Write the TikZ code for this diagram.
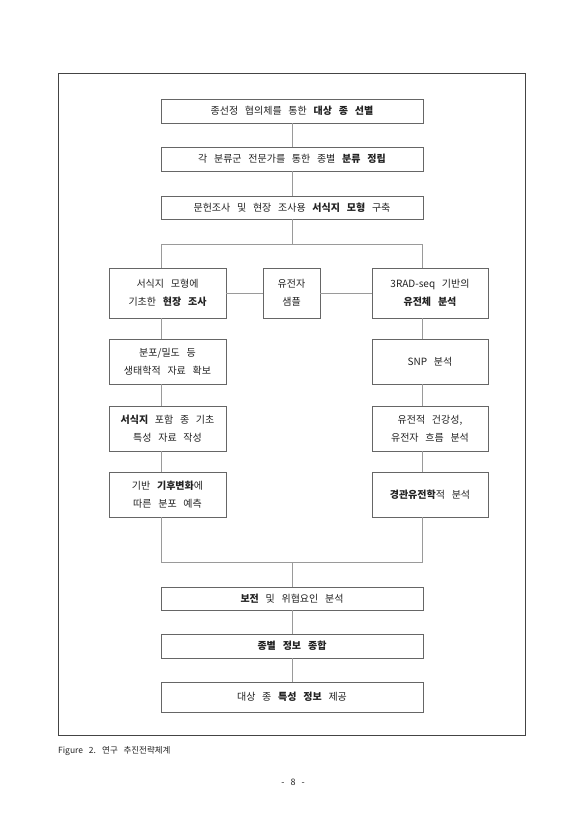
\documentclass[tikz,border=0pt]{standalone}
\usepackage{fontspec}
\setmainfont[WordSpace=3]{Noto Sans CJK KR}
\definecolor{framec}{HTML}{444444}
\definecolor{boxc}{HTML}{666666}
\definecolor{linec}{HTML}{9A9A9A}
\definecolor{textc}{HTML}{222222}
\begin{document}
\begin{tikzpicture}[x=1pt,y=-1pt,
  box/.style={draw=boxc, line width=0.9pt, inner sep=0pt, align=center, text=textc, font=\fontsize{10}{18}\selectfont},
  wide/.style={box, minimum width=262pt, minimum height=24pt},
  side/.style={box, minimum width=117pt, minimum height=45pt},
  conn/.style={draw=linec, line width=0.9pt}]
\useasboundingbox (0,0) rectangle (587,830);
\fill[white] (0,0) rectangle (587,830);
\node[draw=framec, line width=1pt, minimum width=467pt, minimum height=662pt, inner sep=0pt] (frame) at (291.5,404) {};
% top chain
\node[wide] (b1) at (292,111) {종선정 협의체를 통한 \textbf{대상 종 선별}};
\node[wide] (b2) at (292,159) {각 분류군 전문가를 통한 종별 \textbf{분류 정립}};
\node[wide, minimum height=23pt] (b3) at (292,207.5) {문헌조사 및 현장 조사용 \textbf{서식지 모형} 구축};
% row 1
\node[side, minimum height=50pt] (l1) at (167.5,293) {서식지 모형에\\기초한 \textbf{현장 조사}};
\node[box, minimum width=57pt, minimum height=50pt] (m1) at (291.5,293) {유전자\\샘플};
\node[side, minimum height=50pt, minimum width=116pt] (r1) at (430,293) {3RAD-seq 기반의\\\textbf{유전체 분석}};
% left column
\node[side] (l2) at (167.5,361.5) {분포/밀도 등\\생태학적 자료 확보};
\node[side] (l3) at (167.5,428.5) {\textbf{서식지} 포함 종 기초\\특성 자료 작성};
\node[side] (l4) at (167.5,494.5) {기반 \textbf{기후변화}에\\따른 분포 예측};
% right column
\node[side, minimum width=116pt] (r2) at (430,361.5) {SNP 분석};
\node[side, minimum width=116pt] (r3) at (430,428.5) {유전적 건강성,\\유전자 흐름 분석};
\node[side, minimum width=116pt] (r4) at (430,494.5) {\textbf{경관유전학}적 분석};
% bottom chain
\node[wide, minimum height=23pt] (c1) at (292,598.5) {\textbf{보전} 및 위협요인 분석};
\node[wide] (c2) at (292,646) {\textbf{종별 정보 종합}};
\node[wide, minimum height=30pt] (c3) at (292,697) {대상 종 \textbf{특성 정보} 제공};
% split / merge points
\coordinate (sp) at (292,244);
\coordinate (spL) at (161,244);
\coordinate (spR) at (422,244);
\coordinate (mg) at (292,562);
\coordinate (mgL) at (161,562);
\coordinate (mgR) at (422,562);
% connectors
\draw[conn] (b1) -- (b2);
\draw[conn] (b2) -- (b3);
\draw[conn] (b3.south) -- (sp);
\draw[conn] (spL) -- (spR);
\draw[conn] (spL) -- (spL |- l1.north);
\draw[conn] (spR) -- (spR |- r1.north);
\draw[conn] (l1.east) -- (m1.west);
\draw[conn] (m1.east) -- (r1.west);
\draw[conn] (spL |- l1.south) -- (spL |- l2.north);
\draw[conn] (spL |- l2.south) -- (spL |- l3.north);
\draw[conn] (spL |- l3.south) -- (spL |- l4.north);
\draw[conn] (spR |- r1.south) -- (spR |- r2.north);
\draw[conn] (spR |- r2.south) -- (spR |- r3.north);
\draw[conn] (spR |- r3.south) -- (spR |- r4.north);
\draw[conn] (spL |- l4.south) -- (mgL) -- (mgR) -- (spR |- r4.south);
\draw[conn] (mg) -- (c1.north);
\draw[conn] (c1) -- (c2);
\draw[conn] (c2) -- (c3);
% caption and page number
\node[anchor=west, inner sep=0pt, text=textc, font=\fontsize{8.5}{11}\selectfont] (cap) at (58,751) {Figure 2. 연구 추진전략체계};
\node[inner sep=0pt, text=textc, font=\fontsize{9}{11}\selectfont] (pg) at (293,782) {- 8 -};
\end{tikzpicture}
\end{document}
